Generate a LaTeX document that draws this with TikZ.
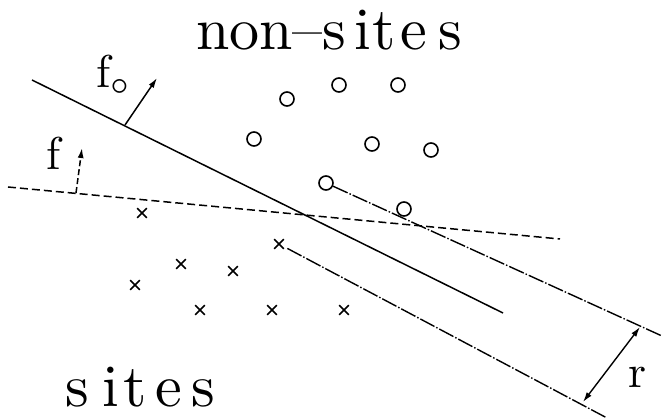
\documentclass[tikz,border=0pt]{standalone}
\usepackage{amsmath}
\usepackage{graphicx}
\usepackage{tikz}
\usetikzlibrary{arrows.meta,positioning,shapes.misc,calc}
\tikzset{
    svNonSite/.style={
        circle,
        draw,
        line width=1.6pt,
        minimum size=14pt,
        inner sep=0pt
    },
    svSite/.style={
        cross out,
        draw,
        line width=1.6pt,
        minimum size=8pt,
        inner sep=0pt
    },
    svLabel/.style={font=\normalsize, inner sep=0pt},
    svTitle/.style={font=\normalsize, inner sep=0pt},
    % Separating planes
    svPlane/.style={line width=1.5pt},
    svGuess/.style={line width=1.5pt, dash pattern=on 8pt off 4pt},
    svMargin/.style={line width=1.4pt, dash pattern=on 16pt off 2pt on 1.5pt off 2pt},
    svArrow/.style={-{Latex[length=10pt,width=6pt]}, line width=1.5pt}
}
\newcommand{\svBig}[1]{\scalebox{6}{#1}}
\newcommand{\svMid}[1]{\scalebox{4.6}{#1}}

\begin{document}
\begin{tikzpicture}[x=1pt,y=-1pt]
\useasboundingbox (0,0) rectangle (662,419);

\node[svTitle, anchor=base west] (top) at (196,50) {\svBig{non--s\kern1.3pt i\kern0.3pt t\kern0.8pt e\kern1.8pt s}};
\node[svTitle, anchor=base west] (bot) at (65,407) {\svBig{s\kern2.2pt i\kern0.8pt t\kern1.5pt e\kern1.5pt s}};

% non-sites
\node[svNonSite] (o1) at (287,99) {};
\node[svNonSite] (o2) at (339,85) {};
\node[svNonSite] (o3) at (398,85) {};
\node[svNonSite] (o4) at (254,139) {};
\node[svNonSite] (o5) at (372,144) {};
\node[svNonSite] (o6) at (431,150) {};
\node[svNonSite] (o7) at (326,183) {};
\node[svNonSite] (o8) at (404,209) {};

% sites
\node[svSite] (x1) at (142,213) {};
\node[svSite] (x2) at (181,264) {};
\node[svSite] (x3) at (233,271) {};
\node[svSite] (x4) at (279,244) {};
\node[svSite] (x5) at (135,285) {};
\node[svSite] (x6) at (200,310) {};
\node[svSite] (x7) at (272,310) {};
\node[svSite] (x8) at (344,310) {};

\coordinate (pA) at (32,80);
\coordinate (pB) at (503,313);
\coordinate (gA) at (8,187);
\coordinate (gB) at (560,239);
\coordinate (uB) at (662,336);
\coordinate (lB) at (607,418);
\coordinate (fS) at (125,125);
\coordinate (fT) at (157,78);
\coordinate (gS) at (76,193);
\coordinate (gT) at (82,148);
\coordinate (rA) at (640,327);
\coordinate (rB) at (583,402);

\draw[svPlane] (pA) -- (pB);
\draw[svGuess] (gA) -- (gB);
\draw[svMargin] (o7) -- (uB);
\draw[svMargin, shorten <=4pt] (x4) -- (lB);

\draw[svArrow] (fS) -- (fT);
\draw[svArrow, dash pattern=on 6pt off 3pt] (gS) -- (gT);
\draw[{Latex[length=10pt,width=6pt]}-{Latex[length=10pt,width=6pt]}, line width=1.4pt] (rA) -- (rB);

\node[svLabel, anchor=base west] (fo) at (96,88) {\svMid{f$_\circ$}};
\node[svLabel, anchor=base west] (fg) at (46,170) {\svMid{f}};
\node[svLabel, anchor=base west] (rl) at (628,388) {\svMid{r}};
\end{tikzpicture}
\end{document}
